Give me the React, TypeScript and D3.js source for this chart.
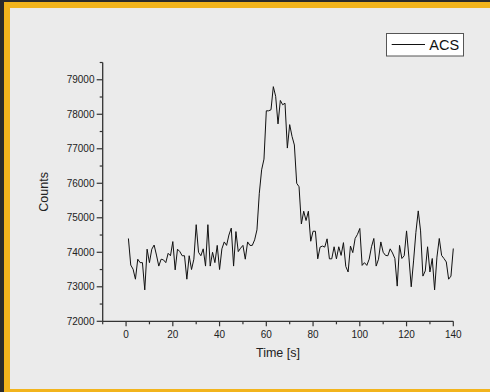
import React from "react";
import * as d3 from "d3";

const times: number[] = Array.from({ length: 140 }, (_, i) => i + 1);
const counts: number[] = [
  74400, 73630, 73510, 73220, 73800, 73700, 73700, 72910, 74090, 73700,
  74090, 74210, 73920, 73600, 73800, 73780, 73700, 73970, 73900, 74310,
  73490, 74090, 74020, 73900, 73900, 73220, 73900, 73500, 73800, 74800,
  74000, 73900, 74100, 73600, 74800, 73600, 74000, 73700, 74200, 73500,
  74100, 74300, 74200, 74500, 74700, 73600, 74600, 74020, 74120, 74200,
  73800, 74300, 74200, 74200, 74360, 74650, 75710, 76390, 76700, 78100,
  78100, 78130, 78800, 78520, 77720, 78400, 78275, 78320, 77020, 77700,
  77360, 77110, 76000, 75900, 74820, 75190, 74920, 75190, 74320, 74610,
  74610, 73810, 74150, 74180, 74150, 74390, 73810, 73810, 74160, 73810,
  74160, 73910, 74280, 73590, 73430, 74180, 73990, 74400, 74520, 74690,
  73620, 73700, 73620, 73800, 74160, 74400, 73600, 73800, 74300, 74000,
  73910, 73900, 74100, 73980, 73820, 73020, 74200, 73820, 73900, 74620,
  73860, 73000, 73750, 74580, 75200, 74620, 73310, 73460, 74160, 73430,
  73820, 72910, 73860, 74400, 73910, 73820, 73720, 73220, 73310, 74110,
];
const xTicks: number[] = [0, 20, 40, 60, 80, 100, 120, 140];
const yTicks: number[] = [72000, 73000, 74000, 75000, 76000, 77000, 78000, 79000];
const seriesName = "ACS";
const xTitle = "Time [s]";
const yTitle = "Counts";

export default function App() {
  const W = 490, H = 392;
  const left = 102.7, right = 453.3, top = 62.5, bottom = 321.3;
  const x = d3.scaleLinear().domain([-10, 140]).range([left, right]);
  const y = d3.scaleLinear().domain([72000, 79500]).range([bottom, top]);
  const line = d3
    .line<number>()
    .x((_, i) => x(times[i]))
    .y((d) => y(d));
  const xMinor = d3.range(-10, 141, 10).filter((v) => !xTicks.includes(v));
  const yMinor = d3.range(72500, 79501, 1000);
  const font = "'Liberation Sans', Arial, sans-serif";
  const axisColor = "#333";
  return (
    <svg
      width={W}
      height={H}
      style={{ position: "absolute", left: 0, top: 0 }}
      fontFamily={font}
    >
      <rect x={0} y={0} width={W} height={H} fill="#2b2b2b" />
      <rect x={4} y={2} width={W} height={H} fill="#f2b41c" />
      <rect x={10} y={8} width={W - 10} height={381} fill="#ebebeb" />

      <path d={line(counts) ?? ""} fill="none" stroke="#111" strokeWidth={1} strokeLinejoin="round" />

      {/* axes */}
      <line x1={left} x2={left} y1={top} y2={bottom} stroke={axisColor} strokeWidth={1.3} />
      <line x1={left} x2={right} y1={bottom} y2={bottom} stroke={axisColor} strokeWidth={1.3} />

      {yTicks.map((t) => (
        <g key={"y" + t}>
          <line x1={left - 6} x2={left} y1={y(t)} y2={y(t)} stroke={axisColor} strokeWidth={1.2} />
          <text x={94.5} y={y(t) + 3.6} fontSize={10} textAnchor="end" fill="#222">
            {t}
          </text>
        </g>
      ))}
      {yMinor.map((t) => (
        <line key={"ym" + t} x1={left - 3} x2={left} y1={y(t)} y2={y(t)} stroke={axisColor} strokeWidth={1.2} />
      ))}
      {xTicks.map((t) => (
        <g key={"x" + t}>
          <line x1={x(t)} x2={x(t)} y1={bottom} y2={bottom + 5} stroke={axisColor} strokeWidth={1.2} />
          <text x={x(t)} y={338} fontSize={10} textAnchor="middle" fill="#222">
            {t}
          </text>
        </g>
      ))}
      {xMinor.map((t) => (
        <line key={"xm" + t} x1={x(t)} x2={x(t)} y1={bottom} y2={bottom + 3} stroke={axisColor} strokeWidth={1.2} />
      ))}

      <text x={(left + right) / 2} y={357} fontSize={12.5} textAnchor="middle" fill="#222">
        {xTitle}
      </text>
      <text
        transform={`translate(47.5, ${(top + bottom) / 2}) rotate(-90)`}
        fontSize={12.5}
        textAnchor="middle"
        fill="#222"
      >
        {yTitle}
      </text>

      {/* legend */}
      <rect x={386.5} y={33.5} width={77} height={22.5} fill="#fff" stroke="#555" strokeWidth={1} />
      <line x1={391.7} x2={425} y1={44.5} y2={44.5} stroke="#111" strokeWidth={1} />
      <text x={429.3} y={50} fontSize={14.5} fill="#111">
        {seriesName}
      </text>
    </svg>
  );
}
